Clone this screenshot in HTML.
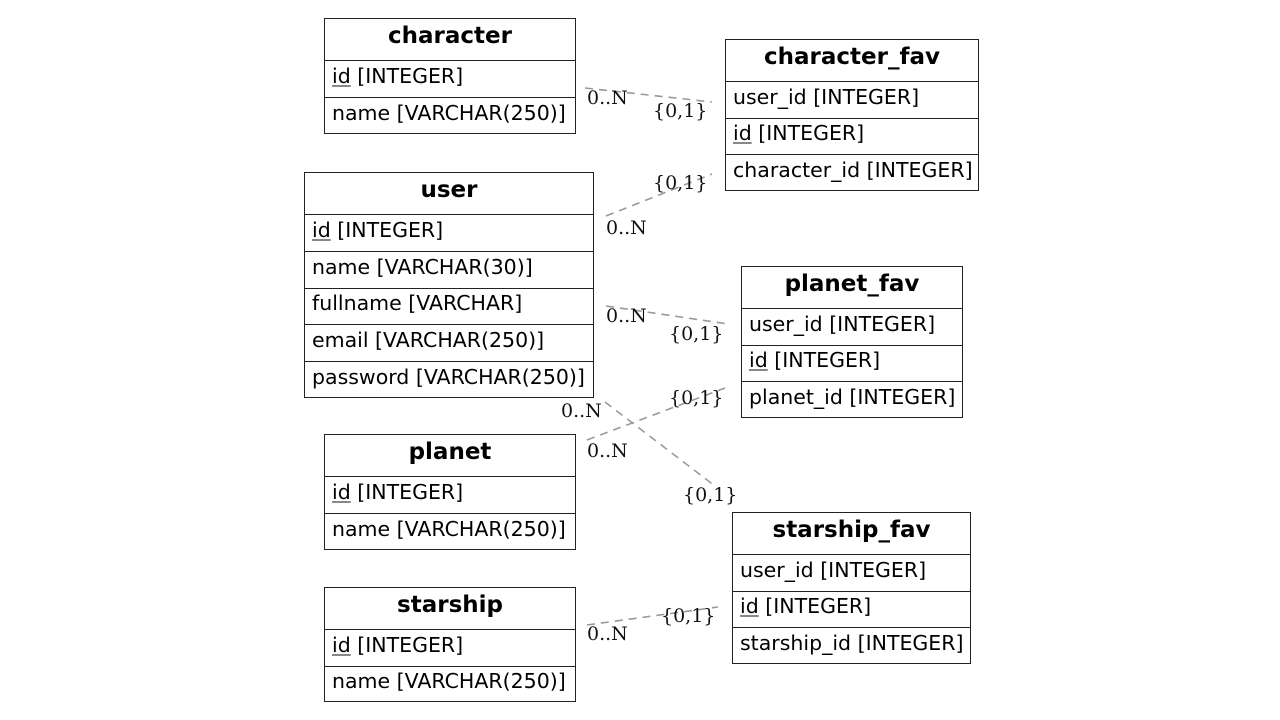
<!DOCTYPE html>
<html><head><meta charset="utf-8"><style>
body{margin:0;width:1280px;height:720px;background:#fff;position:relative;overflow:hidden;font-family:"DejaVu Sans","Liberation Sans",sans-serif;}
.t{position:absolute;border:1.8px solid #222;box-sizing:border-box;background:#fff;}
.h{font-weight:bold;font-size:23px;text-align:center;border-bottom:1.8px solid #222;box-sizing:border-box;display:flex;align-items:center;justify-content:center;padding-bottom:7px;}
.r{font-size:20.5px;padding-left:7px;border-bottom:1.8px solid #222;box-sizing:border-box;display:flex;align-items:center;white-space:nowrap;padding-bottom:7px;}
.r:last-child{border-bottom:none;}
u{text-decoration:underline;text-decoration-color:#888;}
svg{position:absolute;left:0;top:0;}
svg text{font-family:"DejaVu Serif","Liberation Serif",serif;font-size:19px;fill:#111;}
</style></head><body>
<svg width="1280" height="720">
<g stroke="#999" stroke-width="1.6" stroke-dasharray="8,6" fill="none">
<line x1="585" y1="88" x2="712" y2="102"/>
<line x1="606" y1="216" x2="712" y2="174"/>
<line x1="606" y1="306" x2="728" y2="324"/>
<line x1="605" y1="402" x2="715" y2="486"/>
<line x1="587" y1="440" x2="725" y2="388"/>
<line x1="587" y1="625" x2="718" y2="607"/>
</g>
<text x="587" y="104">0..N</text><text x="653" y="117">{0,1}</text>
<text x="653" y="189">{0,1}</text><text x="606" y="234">0..N</text>
<text x="606" y="322">0..N</text><text x="669" y="340">{0,1}</text>
<text x="669" y="404">{0,1}</text><text x="561" y="417">0..N</text>
<text x="587" y="457">0..N</text><text x="683" y="501">{0,1}</text>
<text x="661" y="622">{0,1}</text><text x="587" y="640">0..N</text>
</svg>
<div class="t" style="left:324px;top:18px;width:252px;height:116px">
<div class="h" style="height:42px">character</div>
<div class="r" style="height:37px"><u>id</u>&nbsp;[INTEGER]</div>
<div class="r" style="height:36px">name [VARCHAR(250)]</div></div>
<div class="t" style="left:725px;top:39px;width:254px;height:152px">
<div class="h" style="height:42px">character_fav</div>
<div class="r" style="height:37px">user_id [INTEGER]</div>
<div class="r" style="height:36px"><u>id</u>&nbsp;[INTEGER]</div>
<div class="r" style="height:36px">character_id [INTEGER]</div></div>
<div class="t" style="left:304px;top:172px;width:290px;height:226px">
<div class="h" style="height:42px">user</div>
<div class="r" style="height:37px"><u>id</u>&nbsp;[INTEGER]</div>
<div class="r" style="height:37px">name [VARCHAR(30)]</div>
<div class="r" style="height:36px">fullname [VARCHAR]</div>
<div class="r" style="height:37px">email [VARCHAR(250)]</div>
<div class="r" style="height:36px">password [VARCHAR(250)]</div></div>
<div class="t" style="left:741px;top:266px;width:222px;height:152px">
<div class="h" style="height:42px">planet_fav</div>
<div class="r" style="height:37px">user_id [INTEGER]</div>
<div class="r" style="height:36px"><u>id</u>&nbsp;[INTEGER]</div>
<div class="r" style="height:36px">planet_id [INTEGER]</div></div>
<div class="t" style="left:324px;top:434px;width:252px;height:116px">
<div class="h" style="height:42px">planet</div>
<div class="r" style="height:37px"><u>id</u>&nbsp;[INTEGER]</div>
<div class="r" style="height:36px">name [VARCHAR(250)]</div></div>
<div class="t" style="left:732px;top:512px;width:239px;height:152px">
<div class="h" style="height:42px">starship_fav</div>
<div class="r" style="height:37px">user_id [INTEGER]</div>
<div class="r" style="height:36px"><u>id</u>&nbsp;[INTEGER]</div>
<div class="r" style="height:36px">starship_id [INTEGER]</div></div>
<div class="t" style="left:324px;top:587px;width:252px;height:115px">
<div class="h" style="height:42px">starship</div>
<div class="r" style="height:37px"><u>id</u>&nbsp;[INTEGER]</div>
<div class="r" style="height:35px">name [VARCHAR(250)]</div></div>
</body></html>
